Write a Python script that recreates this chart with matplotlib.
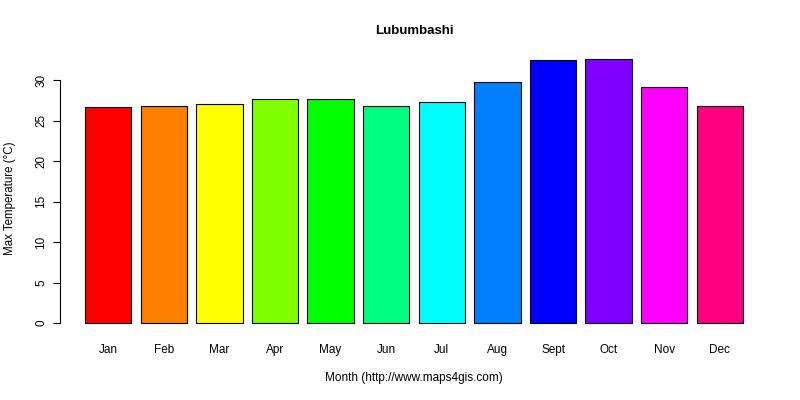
import matplotlib
matplotlib.use("Agg")
import matplotlib.pyplot as plt
plt.rcParams['font.family'] = ['Liberation Sans', 'DejaVu Sans']

months = ["Jan","Feb","Mar","Apr","May","Jun","Jul","Aug","Sept","Oct","Nov","Dec"]
values = [26.7,26.8,27.0,27.7,27.7,26.8,27.3,29.8,32.5,32.6,29.1,26.8]
colors = ["#FF0000","#FF8000","#FFFF00","#80FF00","#00FF00","#00FF80",
          "#00FFFF","#0080FF","#0000FF","#8000FF","#FF00FF","#FF0080"]

fig = plt.figure(figsize=(8,4), dpi=100)
W, H = 800, 400
ax = fig.add_axes([85/W, 1-323/H, (743-85)/W, (323-59)/H])
x = [0.7 + 1.2*i for i in range(12)]
bars = ax.bar(x, values, width=1.0, color=colors, edgecolor="black", linewidth=0.8)
for b in bars:
    b.set_clip_on(False)
ax.set_xlim(0.2, 14.4)
ax.set_ylim(0, 32.6)
for s in ["top","right","bottom"]:
    ax.spines[s].set_visible(False)
ax.spines["left"].set_position(("outward", 18))
ax.spines["left"].set_bounds(0, 30)
ax.set_yticks([0,5,10,15,20,25,30])
ax.set_yticklabels([str(v) for v in [0,5,10,15,20,25,30]], rotation=90, va="center", fontsize=8.5)
ax.set_xticks(x)
ax.set_xticklabels(months, fontsize=8.5)
ax.tick_params(axis="x", length=0, pad=15)
ax.tick_params(axis="y", length=5, pad=4)
fig.text(414/W, 1-31/H, "Lubumbashi", fontweight="bold", fontsize=9.5, ha="center", va="center")
fig.text(414/W, 1-378/H, "Month (http://www.maps4gis.com)", ha="center", va="center", fontsize=8.5)
fig.text(10/W, 1-198/H, "Max Temperature (°C)", rotation=90, ha="center", va="center", fontsize=8.3)
fig.savefig("out.png", dpi=100)
